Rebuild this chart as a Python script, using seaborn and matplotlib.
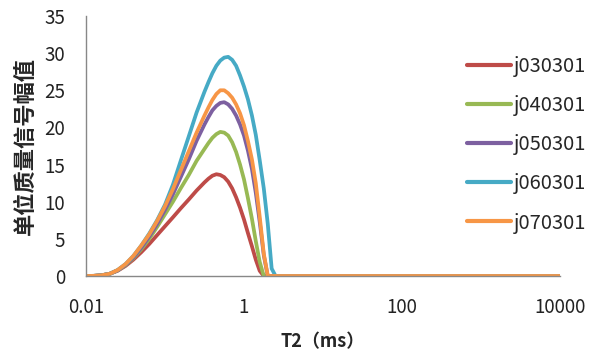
import numpy as np
import pandas as pd
import matplotlib
matplotlib.use("Agg")
import matplotlib.pyplot as plt
import seaborn as sns

# T2 relaxation times (ms)
t2 = [0.01, 0.0126, 0.0158, 0.02, 0.0251, 0.0316, 0.0398, 0.0501, 0.0631, 0.0794,
      0.1, 0.126, 0.158, 0.2, 0.251, 0.316,
      0.355, 0.398, 0.447, 0.501, 0.562, 0.631, 0.708, 0.794, 0.891, 1.0,
      1.12, 1.26, 1.41, 1.58, 1.78, 2.0, 2.24, 2.51,
      10, 100, 1000, 10000]

j030301 = [0, 0.02, 0.1, 0.3, 0.7, 1.35, 2.2, 3.2, 4.3, 5.5, 6.7, 7.9, 9.1, 10.3, 11.5, 12.6,
           13.1, 13.5, 13.7, 13.6, 13.3, 12.7, 11.8, 10.6, 9.2, 7.6, 5.8, 4.0, 2.2, 0.7, 0, 0, 0, 0,
           0, 0, 0, 0]
j040301 = [0, 0.02, 0.1, 0.3, 0.75, 1.45, 2.4, 3.6, 5.0, 6.6, 8.3, 10.0, 11.8, 13.6, 15.5, 17.1,
           17.9, 18.6, 19.1, 19.4, 19.3, 18.9, 18.0, 16.7, 15.0, 13.0, 10.5, 7.7, 4.7, 1.9, 0, 0, 0, 0,
           0, 0, 0, 0]
j050301 = [0, 0.02, 0.1, 0.3, 0.75, 1.5, 2.5, 3.8, 5.3, 7.0, 8.9, 11.0, 13.3, 15.7, 18.2, 20.4,
           21.4, 22.3, 22.9, 23.3, 23.4, 23.1, 22.5, 21.6, 20.4, 18.9, 16.9, 14.4, 11.2, 7.3, 2.8, 0, 0, 0,
           0, 0, 0, 0]
j060301 = [0, 0.02, 0.1, 0.3, 0.8, 1.6, 2.7, 4.1, 5.7, 7.5, 9.6, 12.3, 15.5, 18.8, 22.0, 24.8,
           26.1, 27.3, 28.3, 29.0, 29.4, 29.5, 29.1, 28.3, 27.0, 25.5, 23.8, 21.6, 19.0, 15.6, 11.8, 7.0, 1.0, 0,
           0, 0, 0, 0]
j070301 = [0, 0.02, 0.1, 0.3, 0.8, 1.6, 2.7, 4.1, 5.6, 7.4, 9.4, 11.7, 14.2, 16.8, 19.3, 21.6,
           22.7, 23.7, 24.5, 25.0, 25.0, 24.6, 24.0, 23.1, 21.9, 20.3, 18.2, 15.7, 12.5, 8.0, 3.0, 0, 0, 0,
           0, 0, 0, 0]

series_names = ["j030301", "j040301", "j050301", "j060301", "j070301"]
series_values = [j030301, j040301, j050301, j060301, j070301]
colors = ["#BE4B48", "#98B954", "#7D60A0", "#46AAC5", "#F79646"]

x_ticks = [0.01, 1, 100, 10000]
x_tick_labels = ["0.01", "1", "100", "10000"]
y_ticks = [0, 5, 10, 15, 20, 25, 30, 35]

rows = []
for name, vals in zip(series_names, series_values):
    for t, v in zip(t2, vals):
        rows.append({"T2": t, "value": v, "sample": name})
df = pd.DataFrame(rows)

sns.set_style("white")
plt.rcParams["font.family"] = ["Noto Sans CJK SC", "DejaVu Sans"]

fig = plt.figure(figsize=(5.95, 3.54), dpi=100)
ax = fig.add_axes([86 / 595, 1 - 276 / 354, (560 - 86) / 595, (276 - 16) / 354])

sns.lineplot(data=df, x="T2", y="value", hue="sample", hue_order=series_names,
             palette=colors, linewidth=2.7, ax=ax, sort=False, estimator=None)

ax.set_xscale("log")
ax.set_xlim(0.01, 10000)
ax.set_ylim(0, 35)
ax.set_xticks(x_ticks)
ax.set_xticklabels(x_tick_labels)
ax.minorticks_off()
ax.set_yticks(y_ticks)
ax.tick_params(axis="both", length=0, labelsize=13.5, colors="#222222")
ax.tick_params(axis="x", pad=15)
ax.tick_params(axis="y", pad=15)

for s in ["top", "right"]:
    ax.spines[s].set_visible(False)
for s in ["left", "bottom"]:
    ax.spines[s].set_color("#888888")
    ax.spines[s].set_linewidth(1.0)

ax.set_xlabel("T2（ms）", fontsize=13, fontweight="bold", labelpad=10)
ax.set_ylabel("单位质量信号幅值", fontsize=16, fontweight="bold", labelpad=5)

leg = ax.legend(loc="upper left", bbox_to_anchor=(467 / 595, 1 - 56 / 354),
                bbox_transform=fig.transFigure, frameon=False, fontsize=14.5,
                handlelength=2.2, handletextpad=0.15, labelspacing=0.9,
                borderpad=0, borderaxespad=0)
for line in leg.get_lines():
    line.set_linewidth(3.0)

fig.savefig("out.png", dpi=100)
